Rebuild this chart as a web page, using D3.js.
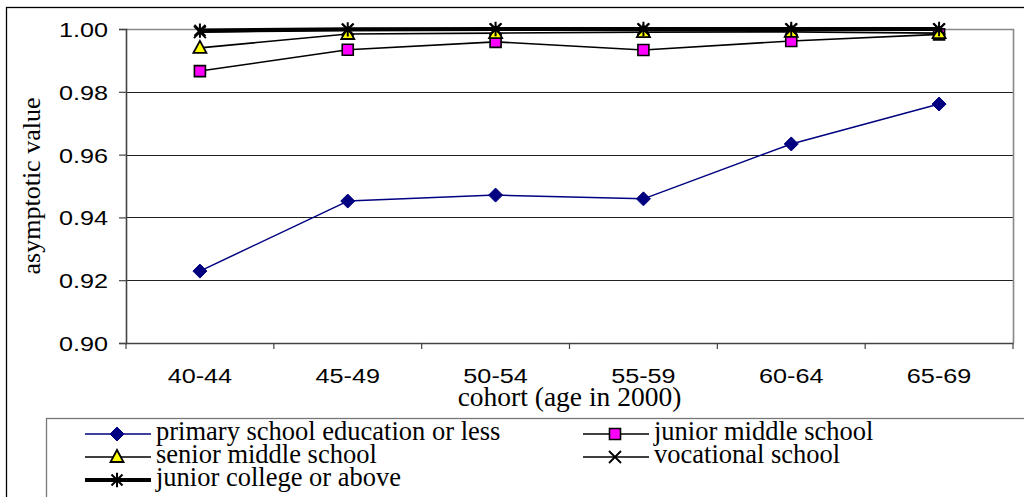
<!DOCTYPE html>
<html>
<head>
<meta charset="utf-8">
<script src="https://cdn.jsdelivr.net/npm/d3@7"></script>
<style>
  html, body { margin: 0; padding: 0; background: #fff; }
  svg { display: block; }
</style>
</head>
<body>
<svg id="chart" width="1024" height="497"></svg>
<script>
// Cohort categories (age in 2000)
const cohorts = ["40-44", "45-49", "50-54", "55-59", "60-64", "65-69"];

// Asymptotic value by education level
const primarySchool  = [0.9229, 0.9452, 0.9471, 0.9459, 0.9634, 0.9761];
const juniorMiddle   = [0.9866, 0.9934, 0.9959, 0.9933, 0.9962, 0.9983];
const seniorMiddle   = [0.9940, 0.9984, 0.9987, 0.9990, 0.9991, 0.9987];
const vocational     = [0.9990, 0.9998, 0.9999, 0.9999, 0.9999, 0.9999];
const juniorCollege  = [0.9995, 0.9999, 1.0000, 1.0000, 1.0000, 1.0000];

const yTicks = [0.90, 0.92, 0.94, 0.96, 0.98, 1.00];

const seriesNames = [
  "primary school education or less",
  "junior middle school",
  "senior middle school",
  "vocational school",
  "junior college or above"
];
const seriesValues = [primarySchool, juniorMiddle, seniorMiddle, vocational, juniorCollege];

const svg = d3.select("#chart");
const plot = { left: 126, right: 1013, top: 29, bottom: 343 };
const SANS = '"Liberation Sans"';
const SERIF = '"Liberation Serif"';
const sansStretch = 1.2;

const x = d3.scaleBand().domain(cohorts).range([plot.left, plot.right]);
const y = d3.scaleLinear().domain([0.90, 1.00]).range([plot.bottom, plot.top]);

// Marker shapes
const crossPath = s => `M${-s},${-s}L${s},${s}M${-s},${s}L${s},${-s}`;
const starPath = s => `M${-s},${-s}L${s},${s}M${-s},${s}L${s},${-s}M0,${-s * 1.3}L0,${s * 1.3}`;

const styles = [
  { line: "#000080", width: 1.5, draw: g => g.append("path").attr("d", "M0,-7L7,0L0,7L-7,0Z").attr("fill", "#000080").attr("stroke", "#000080").attr("stroke-width", 1) },
  { line: "#000", width: 1.6, draw: g => g.append("path").attr("d", "M-5.5,-5.5H5.5V5.5H-5.5Z").attr("fill", "#ff00ff").attr("stroke", "#000").attr("stroke-width", 1.6) },
  { line: "#000", width: 1.6, draw: g => g.append("path").attr("d", "M0,-7L6.5,5L-6.5,5Z").attr("fill", "#ffff00").attr("stroke", "#000").attr("stroke-width", 1.8) },
  { line: "#000", width: 1.6, draw: g => g.append("path").attr("d", crossPath(6)).attr("fill", "none").attr("stroke", "#000").attr("stroke-width", 1.8) },
  { line: "#000", width: 4.2, draw: g => g.append("path").attr("d", starPath(5.5)).attr("fill", "none").attr("stroke", "#000").attr("stroke-width", 2) }
];

// Outer chart frame
svg.append("rect")
  .attr("x", 6.5).attr("y", 7.5).attr("width", 1030).attr("height", 500)
  .attr("fill", "none").attr("stroke", "#000").attr("stroke-width", 1.3);

// Gridlines
svg.append("g")
  .selectAll("line")
  .data(yTicks.filter(v => v > 0.90 && v < 1.00))
  .join("line")
  .attr("x1", plot.left).attr("x2", plot.right)
  .attr("y1", d => Math.round(y(d)) + 0.5).attr("y2", d => Math.round(y(d)) + 0.5)
  .attr("stroke", "#222").attr("stroke-width", 1);

// Plot area border (top and right)
svg.append("path")
  .attr("d", `M${plot.left},${plot.top + 0.5}H${plot.right + 0.5}V${plot.bottom}`)
  .attr("fill", "none").attr("stroke", "#888").attr("stroke-width", 1.6);

// Y axis
const yAxis = svg.append("g")
  .attr("transform", `translate(${plot.left},0)`)
  .call(d3.axisLeft(y).tickValues(yTicks).tickFormat(d3.format(".2f")).tickSize(7).tickPadding(0));
yAxis.select(".domain").attr("stroke", "#444").attr("stroke-width", 1.6);
yAxis.selectAll(".tick line").attr("stroke", "#444").attr("stroke-width", 1.2);
yAxis.selectAll(".tick text")
  .attr("x", -18 / sansStretch)
  .attr("dy", "0.36em")
  .attr("transform", `scale(${sansStretch},1)`)
  .style("font-family", SANS).style("font-size", "21px").attr("fill", "#000");

// X axis
const xAxis = svg.append("g")
  .attr("transform", `translate(0,${plot.bottom})`)
  .call(d3.axisBottom(x).tickSize(0).tickPadding(0));
xAxis.select(".domain").attr("stroke", "#444").attr("stroke-width", 1.6);
xAxis.selectAll(".tick line").remove();
xAxis.selectAll(".tick text")
  .attr("y", 40).attr("dy", 0)
  .attr("transform", `scale(${sansStretch},1)`)
  .style("font-family", SANS).style("font-size", "21px").attr("fill", "#000");
// band boundary ticks
xAxis.append("g")
  .selectAll("line")
  .data(cohorts.map(c => x(c)).concat([x.range()[1]]))
  .join("line")
  .attr("x1", d => d).attr("x2", d => d)
  .attr("y1", 0).attr("y2", 6)
  .attr("stroke", "#444").attr("stroke-width", 1.2);

// Axis titles
svg.append("text")
  .attr("x", (plot.left + plot.right) / 2).attr("y", 406)
  .attr("text-anchor", "middle")
  .style("font-family", SERIF).style("font-size", "27.5px")
  .text("cohort (age in 2000)");

svg.append("text")
  .attr("transform", `translate(40,${(plot.top + plot.bottom) / 2}) rotate(-90)`)
  .attr("text-anchor", "middle")
  .style("font-family", SERIF).style("font-size", "26px")
  .text("asymptotic value");

// Series lines and markers
const line = d3.line().x((d, i) => x(cohorts[i]) + x.bandwidth() / 2).y(d => y(d));
const seriesG = svg.append("g");
seriesValues.forEach((vals, si) => {
  const st = styles[si];
  const g = seriesG.append("g");
  g.append("path")
    .attr("d", line(vals))
    .attr("fill", "none").attr("stroke", st.line).attr("stroke-width", st.width)
    .attr("stroke-linejoin", "round");
  vals.forEach((v, i) => {
    const m = g.append("g")
      .attr("transform", `translate(${x(cohorts[i]) + x.bandwidth() / 2},${y(v)})`);
    st.draw(m);
  });
});

// Legend
svg.append("rect")
  .attr("x", 46.5).attr("y", 418.5).attr("width", 1000).attr("height", 100)
  .attr("fill", "#fff").attr("stroke", "#777").attr("stroke-width", 1.3);

const legendPos = [
  { x: 85, y: 434 }, { x: 583, y: 434 },
  { x: 85, y: 457 }, { x: 583, y: 457 },
  { x: 85, y: 480 }
];
seriesNames.forEach((name, si) => {
  const p = legendPos[si];
  const st = styles[si];
  const g = svg.append("g").attr("transform", `translate(${p.x},${p.y})`);
  g.append("line").attr("x1", 0).attr("x2", 66).attr("y1", 0).attr("y2", 0)
    .attr("stroke", st.line).attr("stroke-width", st.width);
  st.draw(g.append("g").attr("transform", "translate(32,0)"));
  g.append("text")
    .attr("x", 71).attr("y", 6)
    .style("font-family", SERIF).style("font-size", "26.5px")
    .text(name);
});
</script>
</body>
</html>
